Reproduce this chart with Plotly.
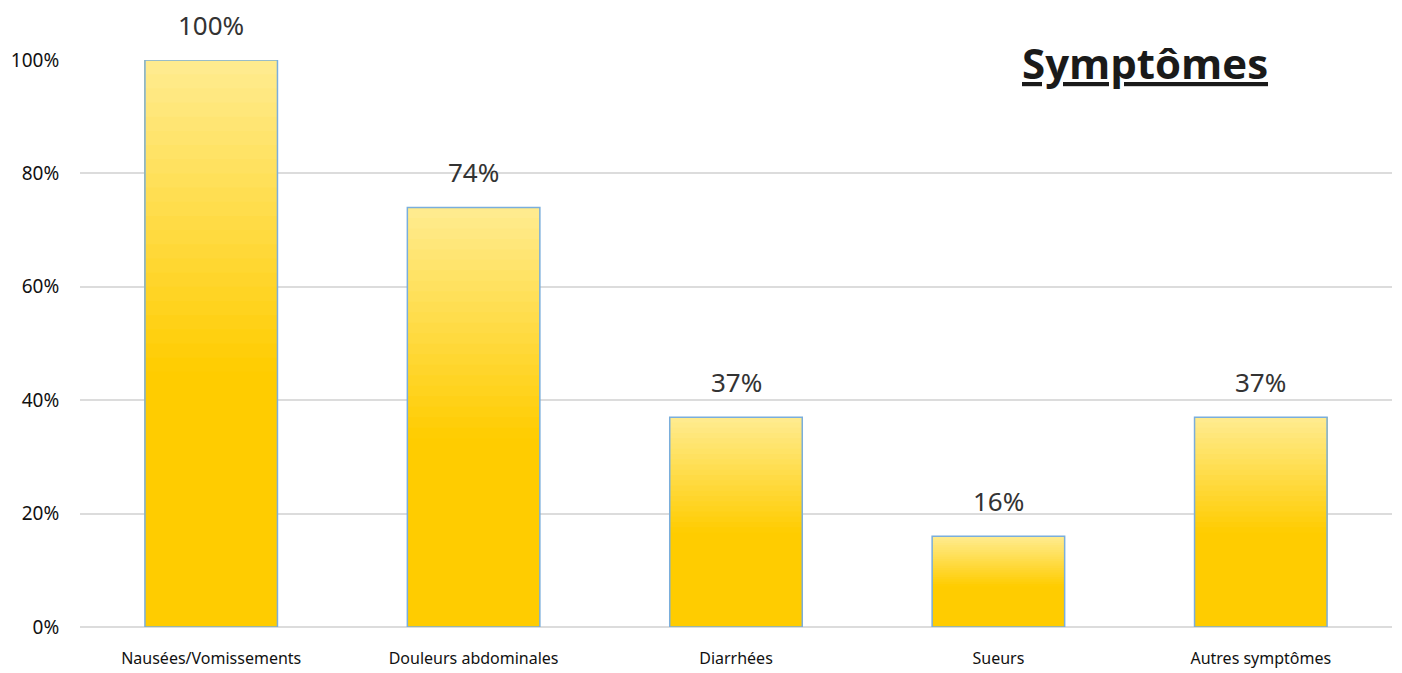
import plotly.graph_objects as go

categories = ["Nausées/Vomissements", "Douleurs abdominales", "Diarrhées", "Sueurs", "Autres symptômes"]
values = [100, 74, 37, 16, 37]
labels = ["100%", "74%", "37%", "16%", "37%"]
tick_vals = [0, 20, 40, 60, 80, 100]
tick_text = ["0%", "20%", "40%", "60%", "80%", "100%"]

GOLD = (255, 204, 0)
LIGHT = (255, 236, 145)

def mix(a, b, t):
    return "rgb(%d,%d,%d)" % tuple(round(a[i] + (b[i] - a[i]) * t) for i in range(3))

fig = go.Figure()
N = 40
for i in range(N):
    frac = (i + 0.5) / N
    t = max(0.0, (frac - 0.45) / 0.55)
    fig.add_trace(go.Bar(
        x=categories,
        y=[v * (1 - i / N) for v in values],
        base=[v * i / N for v in values],
        marker=dict(color=mix(GOLD, LIGHT, t), line=dict(width=0)),
        width=0.505,
        hoverinfo="skip",
        showlegend=False,
    ))

fig.add_trace(go.Bar(
    x=categories,
    y=values,
    marker=dict(color="rgba(0,0,0,0)", line=dict(color="#7AAEDC", width=1.5)),
    width=0.505,
    showlegend=False,
))

for c, v, lab in zip(categories, values, labels):
    fig.add_annotation(
        x=c, y=v, text=lab, showarrow=False,
        yanchor="bottom", yshift=15,
        font=dict(size=26, color="#333333", family="Noto Sans"),
    )

fig.add_annotation(
    text="<b><u>Symptômes</u></b>",
    xref="paper", yref="paper",
    x=0.812, y=0.996, xanchor="center", yanchor="middle",
    showarrow=False,
    font=dict(size=42, color="#1a1a1a", family="Open Sans"),
)

# page body has an 8px margin, so the figure is 8px smaller than the window
fig.update_layout(
    width=1394, height=665,
    margin=dict(l=72, r=10, t=52, b=46, autoexpand=False),
    paper_bgcolor="white",
    plot_bgcolor="white",
    barmode="overlay",
    font=dict(family="Noto Sans", color="#222222"),
)
fig.update_yaxes(
    range=[0, 100], automargin=False,
    tickvals=tick_vals, ticktext=tick_text,
    showgrid=True, gridcolor="#DCDCDC", gridwidth=1.5,
    zeroline=True, zerolinecolor="#DCDCDC", zerolinewidth=1.5,
    tickfont=dict(size=19, color="#111111"),
    ticks="outside", ticklen=16, tickcolor="white",
)
fig.update_xaxes(
    automargin=False,
    tickfont=dict(size=16, color="#111111"),
    ticks="outside", ticklen=17, tickcolor="white",
    showline=False,
)

fig.write_html("out.html")
